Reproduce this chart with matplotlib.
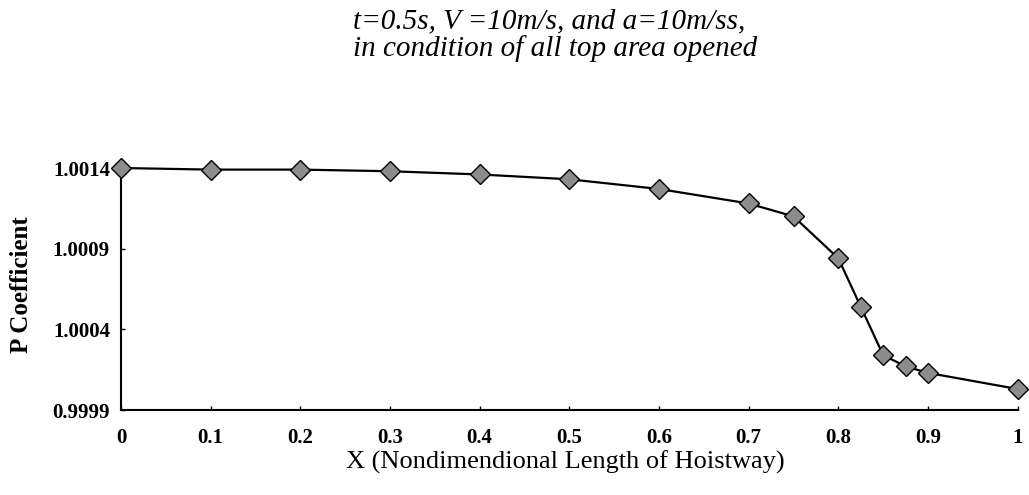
import matplotlib.pyplot as plt

# data
x_vals = [0, 0.1, 0.2, 0.3, 0.4, 0.5, 0.6, 0.7, 0.75, 0.8, 0.825, 0.85, 0.875, 0.9, 1.0]
p_coef = [1.00140, 1.00139, 1.00139, 1.00138, 1.00136, 1.00133, 1.00127, 1.00118,
          1.00110, 1.00084, 1.00054, 1.00024, 1.00017, 1.00013, 1.00003]
x_ticks = [0, 0.1, 0.2, 0.3, 0.4, 0.5, 0.6, 0.7, 0.8, 0.9, 1]
x_tick_labels = ['0', '0.1', '0.2', '0.3', '0.4', '0.5', '0.6', '0.7', '0.8', '0.9', '1']
y_ticks = [0.9999, 1.0004, 1.0009, 1.0014]
y_tick_labels = ['0.9999', '1.0004', '1.0009', '1.0014']

plt.rcParams['font.family'] = ['Liberation Serif', 'DejaVu Serif']

fig = plt.figure(figsize=(10.29, 4.95), dpi=100)
ax = fig.add_axes([0.1176, 0.1717, 0.8714, 0.4889])

ax.plot(x_vals, p_coef, color='black', linewidth=1.6, marker='D', markersize=10,
        markerfacecolor='#8c8c8c', markeredgecolor='black', markeredgewidth=1.0,
        clip_on=False, zorder=3)

ax.set_xlim(0, 1)
ax.set_ylim(0.9999, 1.0014)
ax.set_xticks(x_ticks)
ax.set_xticklabels(x_tick_labels, fontsize=15, fontweight='bold')
ax.set_yticks(y_ticks)
ax.set_yticklabels(y_tick_labels, fontsize=15, fontweight='bold')
ax.tick_params(direction='in', length=3, width=1)
ax.tick_params(axis='x', pad=13)
ax.tick_params(axis='y', pad=8)

for side in ['top', 'right']:
    ax.spines[side].set_visible(False)
for side in ['left', 'bottom']:
    ax.spines[side].set_linewidth(1.5)

fig.text(565 / 1029, 1 - 462 / 495, 'X (Nondimendional Length of Hoistway)', fontsize=19,
         ha='center', va='center')
fig.text(22 / 1029, 1 - 285 / 495, 'P Coefficient', fontsize=18, fontweight='bold',
         rotation=90, ha='center', va='center')

# title, two lines
fig.text(353 / 1029, 1 - 21 / 495, 't=0.5s, V =10m/s, and a=10m/ss,', fontsize=21,
         style='italic', ha='left', va='center')
fig.text(353 / 1029, 1 - 49 / 495, 'in condition of all top area opened', fontsize=21,
         style='italic', ha='left', va='center')

fig.savefig('out.png', dpi=100)
